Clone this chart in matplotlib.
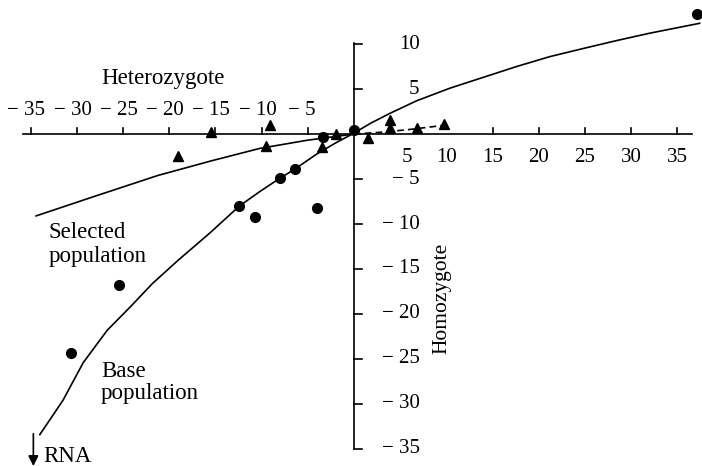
import matplotlib
matplotlib.use('Agg')
import matplotlib.pyplot as plt

plt.rcParams['font.family'] = ['Liberation Serif', 'DejaVu Serif']

# points
base_x = [37.1, 0.0, -3.4, -6.4, -8.0, -12.4, -10.7, -4.0, -25.4, -30.6]
base_y = [13.3, 0.4, -0.3, -3.9, -4.9, -8.0, -9.2, -8.2, -16.8, -24.3]

sel_x = [-15.5, -9.1, -9.5, -19.0, -3.5, -1.9, 1.5, 3.9, 3.9, 6.8, 9.7]
sel_y = [0.2, 1.0, -1.3, -2.4, -1.4, 0.0, -0.4, 1.6, 0.7, 0.7, 1.1]

# curves as drawn in the figure
base_curve_x = [-34.0, -31.5, -29.3, -26.7, -24.2, -21.8, -19.0, -15.6, -12.4, -10.2,
                -8.0, -6.4, -4.0, -2.0, 0.0, 1.8, 3.9, 6.8, 10.4, 14.0, 17.6, 21.2,
                24.8, 28.5, 32.0, 37.4]
base_curve_y = [-33.4, -29.6, -25.4, -21.8, -19.2, -16.6, -14.0, -11.0, -8.0, -6.4,
                -4.9, -3.9, -2.2, -1.0, 0.1, 1.2, 2.3, 3.7, 5.1, 6.3, 7.5, 8.6,
                9.5, 10.4, 11.2, 12.3]

sel_curve_x = [-34.4, -28.0, -21.2, -15.5, -10.2, -5.1, 0.0]
sel_curve_y = [-9.1, -6.9, -4.6, -3.0, -1.6, -0.7, 0.0]
sel_dash_x = [0.0, 3.0, 6.0, 10.0]
sel_dash_y = [0.0, 0.2, 0.5, 1.0]

het_ticks_neg = [-35, -30, -25, -20, -15, -10, -5]
het_ticks_pos = [5, 10, 15, 20, 25, 30, 35]
hom_ticks = [10, 5, -5, -10, -15, -20, -25, -30, -35]

fig = plt.figure(figsize=(7.02, 4.66), dpi=100)
ax = fig.add_axes([0, 0, 1, 1])
ax.set_xlim(-38.31, 37.66)
ax.set_ylim(-36.89, 14.89)
ax.axis('off')

lw = 1.2
# axes drawn through the origin
ax.plot([-35.8, 36.6], [0, 0], color='black', lw=lw)
ax.plot([0, 0], [-35.0, 10.1], color='black', lw=lw)
for t in het_ticks_neg + het_ticks_pos[2:]:
    ax.plot([t, t], [0, 0.7], color='black', lw=lw)
for t in hom_ticks:
    ax.plot([0, 0.9], [t, t], color='black', lw=lw)

# tick labels
fs = 15
for t in het_ticks_neg:
    off = 1.6 if abs(t) >= 10 else 0.8
    ax.text(t + off, 2.6, '\u2212 ' + str(abs(t)), ha='right', va='center', fontsize=fs)
for t in het_ticks_pos:
    ax.text(t + (0.7 if t == 5 else 0), -2.6, str(t), ha='center', va='center', fontsize=fs)
for t in hom_ticks:
    lab = str(t) if t > 0 else '\u2212 ' + str(abs(t))
    ax.text(7.1, t, lab, ha='right', va='center', fontsize=fs)

# curves
ax.plot(base_curve_x, base_curve_y, color='black', lw=lw)
ax.plot(sel_curve_x, sel_curve_y, color='black', lw=lw)
ax.plot(sel_dash_x, sel_dash_y, color='black', lw=lw, ls=(0, (4, 2.5)))

# points
ax.plot(base_x, base_y, 'o', color='black', ms=7)
ax.plot(sel_x, sel_y, '^', color='black', ms=7.5)

# labels
tfs = 16.5
ax.text(-20.7, 5.6, 'Heterozygote', ha='center', va='baseline', fontsize=tfs)
ax.text(9.5, -18.3, 'Homozygote', ha='center', va='center', rotation=90, fontsize=15.5)
ax.text(-33.1, -11.6, 'Selected', ha='left', va='baseline', fontsize=tfs)
ax.text(-33.1, -14.2, 'population', ha='left', va='baseline', fontsize=tfs)
ax.text(-27.4, -27.0, 'Base', ha='left', va='baseline', fontsize=tfs)
ax.text(-27.4, -29.5, 'population', ha='left', va='baseline', fontsize=tfs)
ax.text(-33.66, -35.8, 'RNA', ha='left', va='center', fontsize=tfs)
ax.annotate('', xy=(-34.7, -36.9), xytext=(-34.7, -33.3),
            arrowprops=dict(arrowstyle='-|>', color='black', lw=1.2,
                            mutation_scale=15, shrinkA=0, shrinkB=0))

fig.savefig('out.png', dpi=100)
